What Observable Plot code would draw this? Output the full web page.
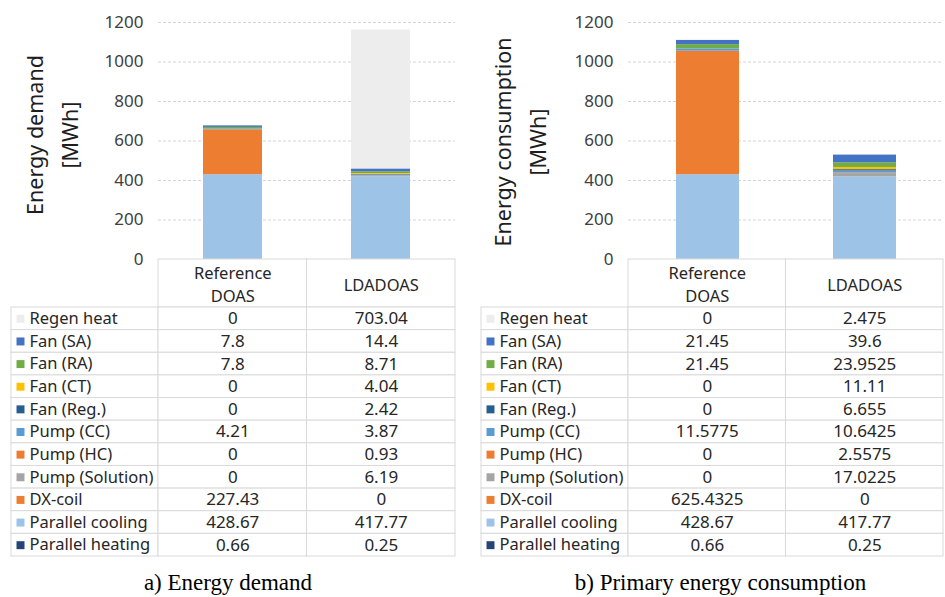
<!DOCTYPE html>
<html><head><meta charset="utf-8">
<script src="https://cdn.jsdelivr.net/npm/d3@7"></script>
<script src="https://cdn.jsdelivr.net/npm/@observablehq/plot@0.6"></script>
<style>
body{margin:0;background:#fff;width:945px;height:597px;overflow:hidden;position:relative;font-family:"Noto Sans",sans-serif;}
.panel{position:absolute;top:0;}
.panel svg{display:block;}
.caption{position:absolute;top:568px;font-family:"Liberation Serif","Times New Roman",serif;font-size:23px;line-height:30px;text-align:center;color:#000;white-space:nowrap;}
</style></head><body>
<div id="a" class="panel" style="left:0;width:470px"></div>
<div id="b" class="panel" style="left:470px;width:475px"></div>
<div class="caption" id="capA" style="left:0;width:456px"></div>
<div class="caption" id="capB" style="left:470px;width:501px"></div>
<script>
// ---- data ----
const systems = ["Reference DOAS", "LDADOAS"];
const systemLabels = ["Reference\nDOAS", "LDADOAS"];
// table order (top to bottom); stacks are drawn bottom-to-top in reverse order
const components = ["Regen heat", "Fan (SA)", "Fan (RA)", "Fan (CT)", "Fan (Reg.)", "Pump (CC)", "Pump (HC)", "Pump (Solution)", "DX-coil", "Parallel cooling", "Parallel heating"];
const componentColors = ["#EDEDED", "#4472C4", "#70AD47", "#FFC000", "#255E91", "#5B9BD5", "#ED7D31", "#A5A5A5", "#ED7D31", "#9DC3E6", "#264478"];
const demandReference = [0, 7.8, 7.8, 0, 0, 4.21, 0, 0, 227.43, 428.67, 0.66];
const demandLDADOAS = [703.04, 14.4, 8.71, 4.04, 2.42, 3.87, 0.93, 6.19, 0, 417.77, 0.25];
const consumptionReference = [0, 21.45, 21.45, 0, 0, 11.5775, 0, 0, 625.4325, 428.67, 0.66];
const consumptionLDADOAS = [2.475, 39.6, 23.9525, 11.11, 6.655, 10.6425, 2.5575, 17.0225, 0, 417.77, 0.25];
const yTicks = [0, 200, 400, 600, 800, 1000, 1200];
const yLabels = ["Energy demand\n[MWh]", "Energy consumption\n[MWh]"];
const captions = ["a) Energy demand", "b) Primary energy consumption"];

function drawPanel(el, {width, plotRight, values, yLabel, labelDx, labelDy}) {
  const rows = [];
  components.forEach((c, i) => systems.forEach((s, j) => rows.push({system: s, component: c, value: values[j][i], order: i})));
  const stackRows = rows.slice().sort((a, b) => b.order - a.order);

  const chart = Plot.plot({
    width, height: 259,
    marginTop: 22, marginBottom: 0, marginLeft: 158, marginRight: width - plotRight,
    x: {domain: systems, paddingInner: 0.6, paddingOuter: 0.3, axis: null},
    y: {domain: [0, 1200]},
    color: {domain: components, range: componentColors},
    style: {fontFamily: "Noto Sans", background: "white", overflow: "visible", color: "#404040"},
    marks: [
      Plot.gridY(yTicks.filter(t => t > 0), {stroke: "#d4d4d4", strokeOpacity: 1, strokeDasharray: "3,2"}),
      Plot.axisY({ticks: yTicks, tickFormat: d => String(d), tickSize: 0, tickPadding: 15, fontSize: 17, label: null, fill: "#404040"}),
      Plot.barY(stackRows, {x: "system", y: "value", fill: "component"}),
      Plot.text([yLabel], {frameAnchor: "left", textAnchor: "middle", rotate: -90, dx: labelDx, dy: labelDy, fontSize: 21.5, lineHeight: 1.6, lineAnchor: "middle", fill: "#1e1e1e"})
    ]
  });

  const n = components.length;
  const cells = [];
  systems.forEach((s, j) => cells.push({c0: j + 1, c1: j + 2, r0: 0, r1: 1}));
  components.forEach((c, i) => [0, 1, 2].forEach(k => cells.push({c0: k, c1: k + 1, r0: i + 1, r1: i + 2})));
  const valueCells = components.flatMap((c, i) => systems.map((s, j) => ({col: j + 1.5, row: i + 1.5, text: String(values[j][i])})));

  const table = Plot.plot({
    width, height: 298, margin: 0,
    x: {type: "linear", domain: [0, 1, 3], range: [11, 158, plotRight], axis: null},
    y: {type: "linear", domain: [0, 1, n + 1], range: [0, 48, 297], axis: null},
    color: {domain: components, range: componentColors},
    style: {fontFamily: "Noto Sans", background: "white", overflow: "visible"},
    marks: [
      Plot.rect(cells, {x1: "c0", x2: "c1", y1: "r0", y2: "r1", fill: "white", stroke: "#d9d9d9"}),
      Plot.text(systemLabels, {x: (d, j) => j + 1.5, y: 0.5, text: d => d, fontSize: 16.5, lineHeight: 1.4, lineAnchor: "middle", fill: "#262626"}),
      Plot.dot(components, {x: 0, y: (d, i) => i + 1.5, fill: d => d, symbol: "square", r: 4.5, dx: 9}),
      Plot.text(components, {x: 0, y: (d, i) => i + 1.5, text: d => d, textAnchor: "start", dx: 18, fontSize: 16.5, fill: "#262626"}),
      Plot.text(valueCells, {x: "col", y: "row", text: "text", fontSize: 17, fill: "#262626"})
    ]
  });
  el.append(chart, table);
}

drawPanel(document.getElementById("a"), {width: 470, plotRight: 455, values: [demandReference, demandLDADOAS], yLabel: yLabels[0], labelDx: -109, labelDy: -6});
drawPanel(document.getElementById("b"), {width: 475, plotRight: 473, values: [consumptionReference, consumptionLDADOAS], yLabel: yLabels[1], labelDx: -111, labelDy: 1});
document.getElementById("capA").textContent = captions[0];
document.getElementById("capB").textContent = captions[1];
</script>
</body></html>
